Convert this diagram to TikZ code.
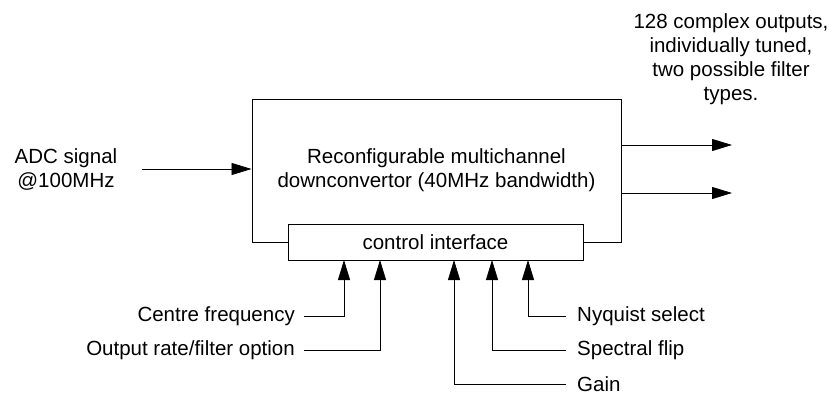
\documentclass[tikz,border=0pt]{standalone}
\usepackage{fontspec}
\setmainfont{Liberation Sans}
\usetikzlibrary{positioning, arrows.meta}
\tikzset{sig/.style={-{Triangle[length=20pt, width=12pt]}, line width=0.8pt},
  block/.style={draw, line width=0.9pt, align=center},
  lbl/.style={inner ysep=2pt},
  every node/.style={font=\fontsize{20.5}{24}\selectfont}}

\begin{document}
\begin{tikzpicture}[x=1pt, y=-1pt]
        \useasboundingbox (0,0) rectangle (832,396);
        % main blocks
        \node[block, minimum width=369pt, minimum height=143pt] (ddc) at (436.5,170.5) {Reconfigurable multichannel\\downconvertor (40MHz bandwidth)};
        \node[block, fill=white, minimum width=295pt, minimum height=36pt] (ctrl) at (435.5,242) {control interface};

        % texts
        \node[align=center, inner sep=3pt] (adc) at (66,169) {ADC signal\\@100MHz};
        \node[align=center] (outs) at (731,59) {128 complex outputs,\\individually tuned,\\two possible filter\\types.};
        \node[lbl, anchor=east, inner xsep=9pt] (cf) at (304,316) {Centre frequency};
        \node[lbl, anchor=east, inner xsep=9pt] (rate) at (304,350) {Output rate/filter option};
        \node[lbl, anchor=west, inner xsep=11pt] (nyq) at (566,316) {Nyquist select};
        \node[lbl, anchor=west, inner xsep=11pt] (flip) at (566,350) {Spectral flip};
        \node[lbl, anchor=west, inner xsep=11pt] (gain) at (566,384) {Gain};

        \coordinate (cfin) at (344,260);
        \coordinate (ratein) at (380,260);
        \coordinate (gainin) at (454,260);
        \coordinate (flipin) at (492,260);
        \coordinate (nyqin) at (528,260);
        \coordinate (o1) at (732,145);
        \coordinate (o2) at (732,193);

        \draw[sig] ([xshift=22pt]adc.east) -- (ddc.west |- adc.east);
        \draw[sig] (ddc.east |- o1) -- (o1);
        \draw[sig] (ddc.east |- o2) -- (o2);
        \draw[sig] (cf.east) -| (cfin);
        \draw[sig] (rate.east) -| (ratein);
        \draw[sig] (gain.west) -| (gainin);
        \draw[sig] (flip.west) -| (flipin);
        \draw[sig] (nyq.west) -| (nyqin);
\end{tikzpicture}
\end{document}
